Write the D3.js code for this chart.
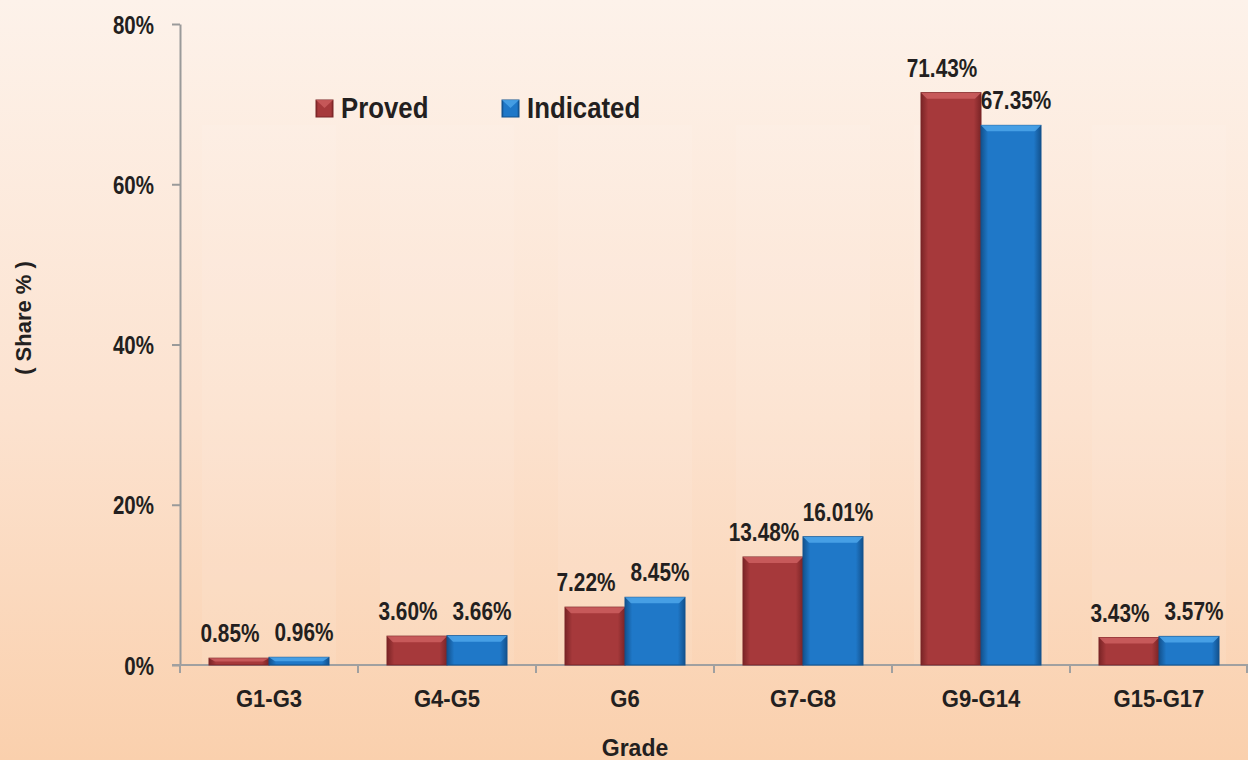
<!DOCTYPE html>
<html><head><meta charset="utf-8">
<script src="https://cdn.jsdelivr.net/npm/d3@7"></script>
<style>
html,body{margin:0;padding:0;}
body{width:1248px;height:760px;overflow:hidden;}
text{font-family:"Liberation Sans",Arial,sans-serif;font-weight:bold;fill:#231f20;}
</style></head>
<body>
<svg id="chart" width="1248" height="760"></svg>
<script>
const categories = ["G1-G3","G4-G5","G6","G7-G8","G9-G14","G15-G17"];
const proved = [0.85, 3.60, 7.22, 13.48, 71.43, 3.43];
const indicated = [0.96, 3.66, 8.45, 16.01, 67.35, 3.57];
const seriesNames = ["Proved","Indicated"];
const yTicks = [0, 20, 40, 60, 80];

const W = 1248, H = 760;
const svg = d3.select("#chart");
const defs = svg.append("defs");

// condense text horizontally (narrow font look)
function narrow(sel, sx) {
  sel.each(function() {
    const t = d3.select(this);
    const x = +t.attr("x") || 0, yy = +t.attr("y") || 0;
    t.attr("x", 0).attr("y", 0).attr("transform", `translate(${x},${yy}) scale(${sx},1)`);
  });
}

// background gradient
const bg = defs.append("linearGradient").attr("id","bg").attr("x1",0).attr("y1",0).attr("x2",0).attr("y2",1);
bg.append("stop").attr("offset","0%").attr("stop-color","#fdf2ea");
bg.append("stop").attr("offset","55%").attr("stop-color","#fce2cf");
bg.append("stop").attr("offset","100%").attr("stop-color","#fad0ad");
svg.append("rect").attr("width",W).attr("height",H).attr("fill","url(#bg)");

const colors = {
  Proved: {main:"#a6393b", dark:"#7a2426", light:"#cd5f60"},
  Indicated: {main:"#1f78c8", dark:"#13528e", light:"#4ea6ea"}
};
seriesNames.forEach(s => {
  const c = colors[s];
  const g = defs.append("linearGradient").attr("id","grad-"+s).attr("x1",0).attr("y1",0).attr("x2",1).attr("y2",0);
  g.append("stop").attr("offset","0%").attr("stop-color",c.dark);
  g.append("stop").attr("offset","12%").attr("stop-color",c.main);
  g.append("stop").attr("offset","88%").attr("stop-color",c.main);
  g.append("stop").attr("offset","100%").attr("stop-color",c.dark);
});

const x0 = d3.scaleBand().domain(categories).range([180, 1248]).paddingInner(0).paddingOuter(0);
const x1 = d3.scaleBand().domain(seriesNames).range([29, x0.bandwidth()-29]).padding(0);
const y = d3.scaleLinear().domain([0, 80]).range([665, 24]);

// faint panels
svg.append("g").selectAll("rect").data(categories).join("rect")
  .attr("x", d => x0(d)+22).attr("width", x0.bandwidth()-44)
  .attr("y", 125).attr("height", 540)
  .attr("fill", "#ffffff").attr("opacity", 0.08);

// y axis
const yAxis = d3.axisLeft(y).tickValues(yTicks).tickFormat(d => d + "%").tickSize(8).tickSizeOuter(0);
const gy = svg.append("g").attr("transform","translate(180,0)").call(yAxis);
gy.select(".domain").attr("stroke","#9a9a9a").attr("stroke-width",2);
gy.selectAll(".tick line").attr("stroke","#9a9a9a").attr("stroke-width",2);
gy.selectAll(".tick text").attr("x",-26).attr("y",9).attr("dy",null).attr("font-size",25).attr("fill","#231f20")
  .style("font-family",'"Liberation Sans",Arial,sans-serif').style("font-weight","bold").call(narrow, 0.82);

// x axis
svg.append("line").attr("x1",172).attr("x2",1248).attr("y1",y(0)).attr("y2",y(0)).attr("stroke","#a0a0a0").attr("stroke-width",2);
const xAxis = d3.axisBottom(x0).tickSize(0).tickSizeOuter(0);
const gx = svg.append("g").attr("transform",`translate(0,${y(0)})`).call(xAxis);
gx.select(".domain").remove();
gx.selectAll(".tick text").attr("y",42).attr("dy",null).attr("font-size",24).attr("fill","#231f20")
  .style("font-family",'"Liberation Sans",Arial,sans-serif').style("font-weight","bold").call(narrow, 0.92);
// category boundary ticks
svg.append("g").selectAll("line").data(categories.concat(["__end"])).join("line")
  .attr("x1", (d,i) => i < categories.length ? x0(d) : 1247)
  .attr("x2", (d,i) => i < categories.length ? x0(d) : 1247)
  .attr("y1", y(0)).attr("y2", y(0)+8).attr("stroke","#a0a0a0").attr("stroke-width",2);

// bars
const data = categories.map((c,i) => ({cat:c, vals:[{s:"Proved",v:proved[i]},{s:"Indicated",v:indicated[i]}]}));
const groups = svg.append("g").selectAll("g").data(data).join("g")
  .attr("transform", d => `translate(${x0(d.cat)},0)`);
const bars = groups.selectAll("g.bar").data(d => d.vals).join("g").attr("class","bar");
bars.append("rect")
  .attr("x", d => x1(d.s)).attr("width", x1.bandwidth())
  .attr("y", d => y(d.v)).attr("height", d => y(0)-y(d.v))
  .attr("fill", d => `url(#grad-${d.s})`)
  .attr("stroke", d => colors[d.s].dark).attr("stroke-width",1);
// top bevel
bars.append("path")
  .attr("d", d => {
    const xl = x1(d.s), w = x1.bandwidth(), yt = y(d.v), h = Math.min(6, (y(0)-y(d.v))/2);
    return `M${xl},${yt}L${xl+w},${yt}L${xl+w-6},${yt+h}L${xl+6},${yt+h}Z`;
  })
  .attr("fill", d => colors[d.s].light).attr("opacity",0.85);

// value labels
bars.append("text")
  .attr("x", d => x1(d.s) + x1.bandwidth()/2 + (d.s === "Proved" ? -9 : 5))
  .attr("y", d => y(d.v) - 16)
  .attr("text-anchor","middle").attr("font-size",26)
  .text(d => d.v.toFixed(2) + "%")
  .call(narrow, 0.8);

// legend
const legend = svg.append("g");
const legX = [316, 502];
seriesNames.forEach((s,i) => {
  legend.append("rect").attr("x",legX[i]).attr("y",100).attr("width",17).attr("height",17)
    .attr("fill",`url(#grad-${s})`).attr("stroke",colors[s].dark).attr("stroke-width",1);
  legend.append("path").attr("d",`M${legX[i]},100L${legX[i]+17},100L${legX[i]+8.5},108Z`)
    .attr("fill",colors[s].light).attr("opacity",0.8);
  legend.append("text").attr("x",legX[i]+25).attr("y",118).attr("font-size",30).text(s).call(narrow, 0.86);
});

// axis titles
svg.append("text").attr("x",635).attr("y",756).attr("text-anchor","middle").attr("font-size",23).text("Grade");
svg.append("text").attr("transform","translate(31,318) rotate(-90)").attr("text-anchor","middle").attr("font-size",22).text("( Share % )");
</script>
</body></html>
